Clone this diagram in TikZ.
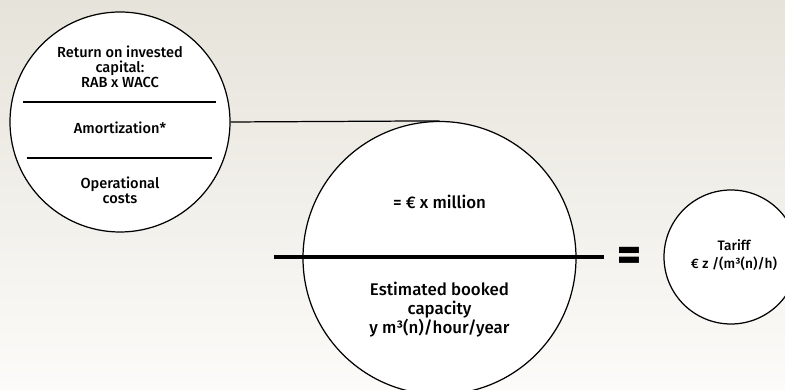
\documentclass[tikz,border=0pt]{standalone}
\usepackage{fontspec}
\setmainfont{Fira Sans}[UprightFont=* Medium]
\definecolor{bgtop}{HTML}{E6E3DA}
\definecolor{bgbottom}{HTML}{FCFBF9}
\begin{document}
\begin{tikzpicture}[line width=0.7pt,
	disc/.style={circle,draw,fill=white,inner sep=0pt},
	txt/.style={align=center,font=\fontsize{8.3}{8.6}\selectfont}]
		\useasboundingbox (0,0) rectangle (15.7,7.8);
		\clip (0,0) rectangle (15.7,7.8);
		\shade [top color=bgtop, bottom color=bgbottom] (0,0) rectangle (15.7,7.8);
		
		% circles
		\node [disc, minimum size=4.4cm] (costs) at (2.4,5.36) {};
		\node [disc, minimum size=5.46cm] (fraction) at (8.79,2.64) {};
		\node [disc, minimum size=2.68cm] (tariff) at (14.62,2.66) {};
		
		\draw (costs.east) -- (fraction.north);
		
		% lines in the left circle
		\coordinate (sepA) at (0.46,5.76);
		\coordinate (sepB) at (4.32,5.76);
		\coordinate (sepC) at (0.54,4.64);
		\coordinate (sepD) at (4.24,4.64);
		\draw (sepA) -- (sepB);
		\draw (sepC) -- (sepD);
		
		% fraction bar
		\coordinate (barL) at (5.48,2.66);
		\coordinate (barR) at (12.08,2.66);
		\draw [line width=2.8pt] (barL) -- (barR);
		
		\node [txt] (capital) at (2.4,6.46) {Return on invested\\capital:\\RAB x WACC};
		\node [txt] (amort) at (2.4,5.24) {Amortization*};
		\node [txt] (opex) at (2.4,4.0) {Operational\\costs};
		\node [txt, font=\fontsize{9.6}{10.8}\selectfont] (million) at (8.79,3.76) {= € x million};
		\node [txt, font=\fontsize{9.6}{10.8}\selectfont] (capacity) at (8.79,1.6) {Estimated booked\\capacity\\y m³(n)/hour/year};
		\node [font=\fontsize{26}{26}\bfseries] (equals) at (12.59,2.63) {=};
		\node [txt, font=\fontsize{7.8}{10}\selectfont] (price) at (14.68,2.7) {Tariff\\€ z /(m³(n)/h)};
	\end{tikzpicture}
\end{document}
